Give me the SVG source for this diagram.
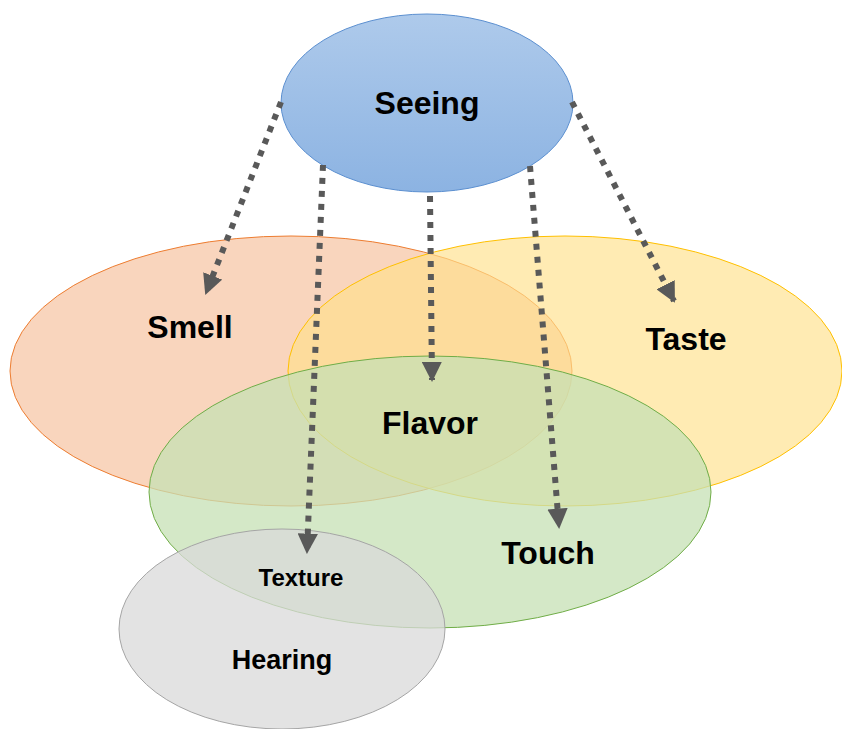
<svg xmlns="http://www.w3.org/2000/svg" width="842" height="729" viewBox="0 0 842 729">
<style>
.lbl{font-family:"Liberation Sans",Arial,sans-serif;font-weight:bold;fill:#000;text-anchor:middle;dominant-baseline:central}
.conn{fill:none;stroke:#595959;stroke-width:6;stroke-dasharray:6 7;marker-end:url(#ah)}
</style>
<defs>
<linearGradient id="gb" x1="0" y1="0" x2="0" y2="1">
<stop offset="0" stop-color="#aecaeb"/>
<stop offset="1" stop-color="#8cb3e2"/>
</linearGradient>
<marker id="ah" viewBox="0 0 10 10" refX="9" refY="5" markerWidth="3.4" markerHeight="3.4" orient="auto" markerUnits="strokeWidth">
<path d="M0,0 L10,5 L0,10 z" fill="#595959"/>
</marker>
</defs>
<rect width="842" height="729" fill="#fff"/>
<g id="smell">
<ellipse cx="291" cy="371" rx="281" ry="135" fill="#f8cbad" fill-opacity="0.8" stroke="#ed7d31" stroke-width="1"/>
<text class="lbl" x="190" y="327" font-size="32">Smell</text>
</g>
<g id="taste">
<ellipse cx="565" cy="371" rx="277" ry="135" fill="#ffe08a" fill-opacity="0.65" stroke="#ffc000" stroke-width="1"/>
<text class="lbl" x="686" y="339" font-size="32">Taste</text>
</g>
<g id="flavor">
<ellipse cx="430" cy="492" rx="281" ry="136" fill="#c5e0b4" fill-opacity="0.75" stroke="#70ad47" stroke-width="1"/>
<text class="lbl" x="430" y="423" font-size="32">Flavor</text>
<text class="lbl" x="548" y="553" font-size="32">Touch</text>
</g>
<g id="hearing">
<ellipse cx="282" cy="629" rx="163" ry="100" fill="#d9d9d9" fill-opacity="0.75" stroke="#a5a5a5" stroke-width="1"/>
<text class="lbl" x="301" y="577" font-size="24">Texture</text>
<text class="lbl" x="282" y="660" font-size="27">Hearing</text>
</g>
<g id="seeing">
<ellipse cx="427" cy="103" rx="146" ry="89" fill="url(#gb)" stroke="#5b8fd0" stroke-width="1"/>
<text class="lbl" x="427" y="103" font-size="32">Seeing</text>
</g>
<g id="connectors">
<path class="conn" d="M281,102 L206,293"/>
<path class="conn" d="M323,165 L307,552"/>
<path class="conn" d="M430,196 L432,380"/>
<path class="conn" d="M530,166 L559,527"/>
<path class="conn" d="M572,102 L674,301"/>
</g>
</svg>
